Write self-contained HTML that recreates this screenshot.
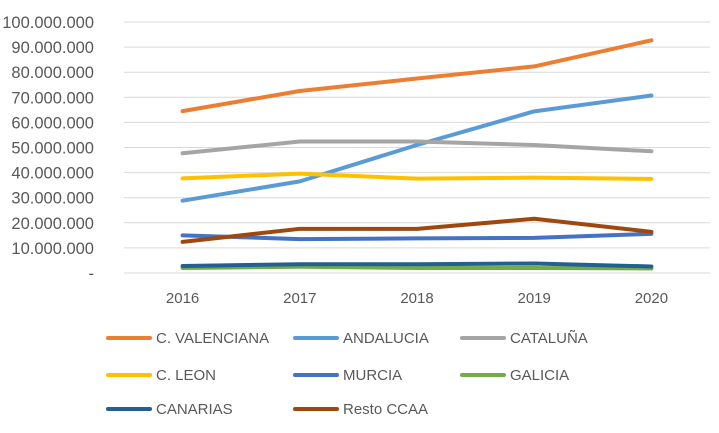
<!DOCTYPE html>
<html><head><meta charset="utf-8"><style>
body{margin:0;background:#fff;width:719px;height:428px;overflow:hidden;font-family:"Liberation Sans",sans-serif}
</style></head><body>
<svg id="chart" width="719" height="428" xmlns="http://www.w3.org/2000/svg" font-family="Liberation Sans, sans-serif"></svg>
<script>
const categories=["2016","2017","2018","2019","2020"];
const yTicks=[0,10,20,30,40,50,60,70,80,90,100];
const yTickLabels=["-","10.000.000","20.000.000","30.000.000","40.000.000","50.000.000","60.000.000","70.000.000","80.000.000","90.000.000","100.000.000"];
const seriesNames=["C. VALENCIANA","ANDALUCIA","CATALUÑA","C. LEON","MURCIA","GALICIA","CANARIAS","Resto CCAA"];
const seriesColors=["#ED7D31","#5B9BD5","#A5A5A5","#FFC000","#4472C4","#70AD47","#255E91","#9E480E"];
const valenciana=[64.5,72.5,77.5,82.3,92.7];
const andalucia=[28.8,36.5,51,64.4,70.7];
const cataluna=[47.7,52.4,52.4,51,48.5];
const cleon=[37.7,39.6,37.6,38,37.5];
const murcia=[15,13.5,13.8,14,15.6];
const galicia=[2,2.5,2,2,1.8];
const canarias=[2.8,3.5,3.5,3.8,2.6];
const resto=[12.4,17.6,17.6,21.6,16.4];
const seriesValues=[valenciana,andalucia,cataluna,cleon,murcia,galicia,canarias,resto];
const svg=document.getElementById('chart');const NS="http://www.w3.org/2000/svg";
const x0=124,x1=710,yTop=22,yBot=273;
const xs=i=>x0+(x1-x0)*(i+0.5)/categories.length;
const ys=v=>yBot-(v/100)*(yBot-yTop);
function mk(t,a){const e=document.createElementNS(NS,t);for(const k in a)e.setAttribute(k,a[k]);svg.appendChild(e);return e;}
yTicks.forEach((t,i)=>{
 const l=mk('line',{x1:x0,x2:x1,y1:ys(t),y2:ys(t),stroke:'#d9d9d9','stroke-width':1});
 
 
 const tx=mk('text',{x:94,y:ys(t)+6,'text-anchor':'end','font-size':16.5,fill:'#595959'});
 tx.textContent=yTickLabels[i];
 
 
});
categories.forEach((c,i)=>{
 const tx=mk('text',{x:xs(i),y:303,'text-anchor':'middle','font-size':15,fill:'#595959'});
 tx.textContent=c;
 
 
});
seriesValues.forEach((vals,s)=>{
 const p=mk('polyline',{points:vals.map((v,i)=>xs(i)+','+ys(v)).join(' '),fill:'none',stroke:seriesColors[s],'stroke-width':4,'stroke-linecap':'round','stroke-linejoin':'round'});
 
 
});
const legX=[108,295,462],legY=[338,375,409];
seriesNames.forEach((n,i)=>{
 const cx=legX[i%3],cy=legY[Math.floor(i/3)];
 const l=mk('line',{x1:cx,x2:cx+42,y1:cy,y2:cy,stroke:seriesColors[i],'stroke-width':4,'stroke-linecap':'round'});
 
 
 const t=mk('text',{x:cx+48,y:cy+5,'font-size':15,fill:'#595959'});
 t.textContent=n;
 
 
});
</script>
</body></html>
